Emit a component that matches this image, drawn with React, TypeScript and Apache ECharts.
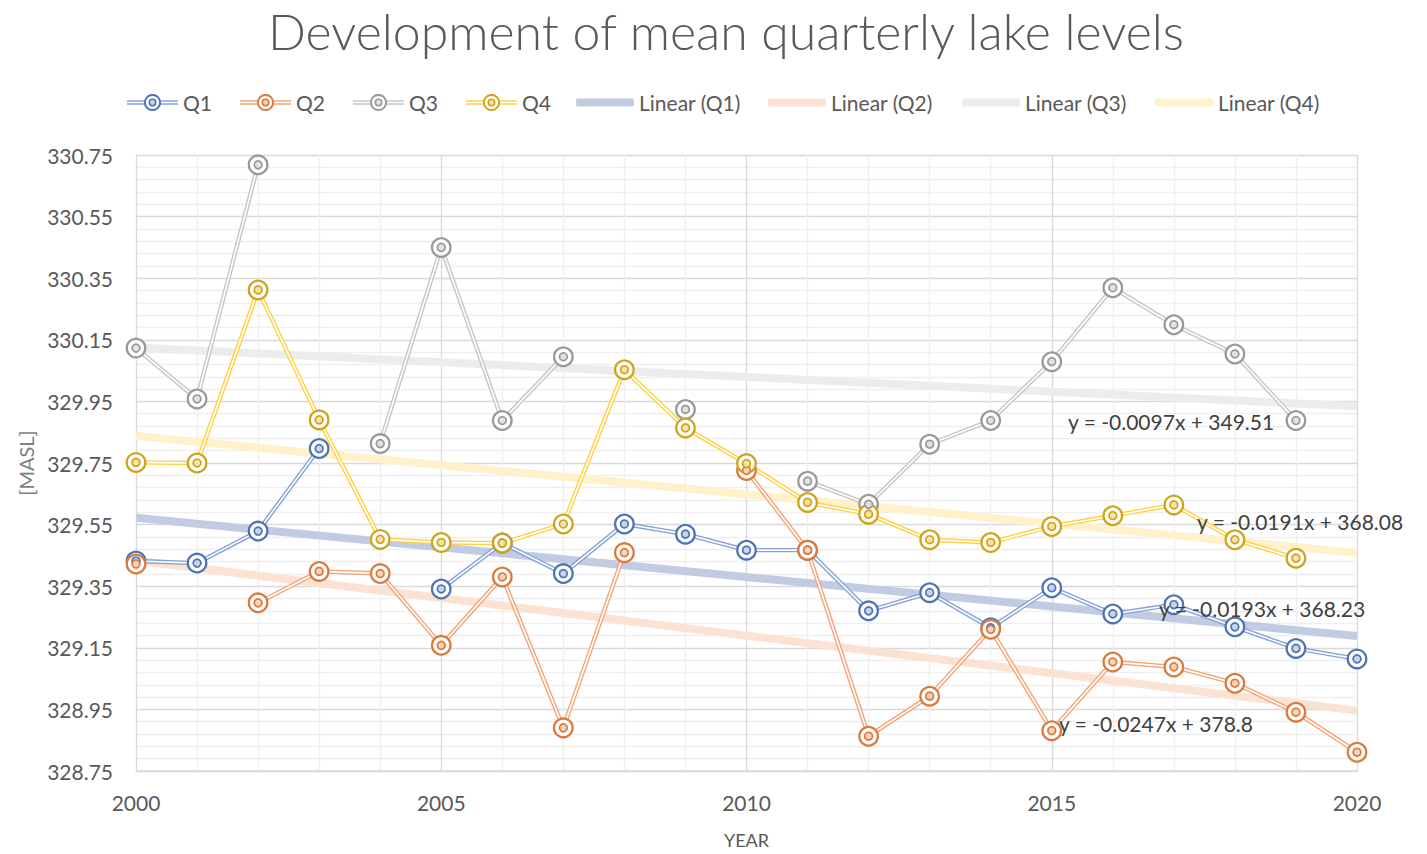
import React, { useEffect, useRef } from "react";
import * as echarts from "echarts";

const YEARS = [2000, 2001, 2002, 2003, 2004, 2005, 2006, 2007, 2008, 2009, 2010, 2011, 2012, 2013, 2014, 2015, 2016, 2017, 2018, 2019, 2020];
const Q1 = [329.432, 329.425, 329.529, 329.797, null, 329.341, 329.49, 329.391, 329.552, 329.519, 329.467, 329.467, 329.27, 329.329, 329.215, 329.345, 329.26, 329.29, 329.218, 329.148, 329.114];
const Q2 = [329.422, null, 329.296, 329.398, 329.391, 329.158, 329.38, 328.89, 329.459, null, 329.726, 329.467, 328.863, 328.993, 329.21, 328.881, 329.104, 329.088, 329.035, 328.941, 328.811];
const Q3 = [330.123, 329.958, 330.718, null, 329.813, 330.45, 329.888, 330.095, null, 329.924, null, 329.691, 329.616, 329.811, 329.888, 330.079, 330.319, 330.199, 330.104, 329.888, null];
const Q4 = [329.752, 329.75, 330.312, 329.89, 329.502, 329.492, 329.49, 329.552, 330.053, 329.864, 329.748, 329.622, 329.584, 329.501, 329.492, 329.544, 329.579, 329.614, 329.501, 329.441, null];

const SERIES_NAMES = ["Q1", "Q2", "Q3", "Q4"];
const TREND_NAMES = ["Linear (Q1)", "Linear (Q2)", "Linear (Q3)", "Linear (Q4)"];
const TREND_YEARS = [2000, 2020];
const TREND_START = [329.572, 329.433, 330.125, 329.838];
const TREND_END = [329.188, 328.946, 329.934, 329.458];
const EQUATIONS = ["y = -0.0193x + 368.23", "y = -0.0247x + 378.8", "y = -0.0097x + 349.51", "y = -0.0191x + 368.08"];

const Y_MIN = 328.75;
const Y_MAX = 330.75;
const Y_STEP = 0.2;

const LINE_COLORS = ["#86a3d8", "#f2a577", "#c6c6c6", "#ffd147"];
const MARK_COLORS = ["#4e73b6", "#dc7a3b", "#999999", "#cfa419"];
const INNER_FILL = ["#c7d4ee", "#f8d3bb", "#e2e2e2", "#f6e3a3"];
const TREND_COLORS = ["#c1cce2", "#fbe2d3", "#ececec", "#fff1c9"];

const FONT = "Lato, 'Open Sans', sans-serif";

const ALL = [Q1, Q2, Q3, Q4];

function legendIcon(i: number) {
  const svg =
    `<svg xmlns='http://www.w3.org/2000/svg' width='51' height='18' viewBox='0 0 51 18'>` +
    `<line x1='0' y1='9' x2='51' y2='9' stroke='${LINE_COLORS[i]}' stroke-width='4.4'/>` +
    `<line x1='0' y1='9' x2='51' y2='9' stroke='#ffffff' stroke-width='1.6'/>` +
    `<circle cx='25.5' cy='9' r='7.6' fill='#ffffff' stroke='${MARK_COLORS[i]}' stroke-width='2'/>` +
    `<circle cx='25.5' cy='9' r='3.2' fill='${INNER_FILL[i]}' stroke='${MARK_COLORS[i]}' stroke-width='1.6'/>` +
    `</svg>`;
  return "image://data:image/svg+xml;charset=utf-8," + encodeURIComponent(svg);
}

export default function App() {
  const ref = useRef<HTMLDivElement>(null);

  useEffect(() => {
    document.body.style.margin = "0";
    if (!ref.current) return;
    const chart = echarts.init(ref.current, undefined, { renderer: "svg" });

    const toData = (vals: (number | null)[]) =>
      YEARS.map((y, k) => [y, vals[k] == null ? "-" : (vals[k] as number) - Y_MIN]);

    const series: any[] = [];
    TREND_NAMES.forEach((name, i) => {
      series.push({
        type: "line",
        name,
        data: TREND_YEARS.map((y, k) => [y, (k === 0 ? TREND_START[i] : TREND_END[i]) - Y_MIN]),
        symbol: "none",
        lineStyle: { color: TREND_COLORS[i], width: 8 },
        itemStyle: { color: TREND_COLORS[i] },
        z: 1,
        silent: true,
      });
    });
    SERIES_NAMES.forEach((name, i) => {
      const d = toData(ALL[i]);
      series.push({
        type: "line", name, data: d, symbol: "none",
        lineStyle: { color: LINE_COLORS[i], width: 4.4 },
        itemStyle: { color: MARK_COLORS[i] },
        z: 2,
      });
      series.push({
        type: "line", name, data: d, symbol: "none",
        lineStyle: { color: "#ffffff", width: 1.6 },
        itemStyle: { color: MARK_COLORS[i] },
        z: 3,
      });
      series.push({
        type: "line", name, data: d, symbol: "circle", symbolSize: 18.5, showSymbol: true, showAllSymbol: true,
        lineStyle: { width: 0, opacity: 0 },
        itemStyle: { color: "#ffffff", borderColor: MARK_COLORS[i], borderWidth: 2.3 },
        z: 4,
      });
      series.push({
        type: "line", name, data: d, symbol: "circle", symbolSize: 7.8, showSymbol: true, showAllSymbol: true,
        lineStyle: { width: 0, opacity: 0 },
        itemStyle: { color: INNER_FILL[i], borderColor: MARK_COLORS[i], borderWidth: 1.7 },
        z: 5,
      });
    });

    const qLeft = [127, 240, 353, 466];
    const tLeft = [576, 768, 962, 1155];
    const legendText = { color: "#595959", fontSize: 21, fontFamily: FONT };
    const legends: any[] = [];
    SERIES_NAMES.forEach((n, i) => {
      legends.push({
        data: [{ name: n, icon: legendIcon(i) }],
        left: qLeft[i], top: 92, padding: 0, itemWidth: 51, itemHeight: 18,
        textStyle: legendText, itemStyle: { borderWidth: 0 }, selectedMode: false,
      });
    });
    TREND_NAMES.forEach((n, i) => {
      legends.push({
        data: [{ name: n, icon: "roundRect" }],
        left: tLeft[i], top: 92, padding: 0, itemWidth: 58, itemHeight: 8,
        textStyle: legendText, itemStyle: { borderWidth: 0 }, selectedMode: false,
      });
    });

    const eqPos = [
      [1159, 610],
      [1059, 725],
      [1068, 423],
      [1197, 523],
    ];

    chart.setOption({
      animation: false,
      backgroundColor: "#ffffff",
      title: {
        text: "Development of mean quarterly lake levels",
        left: 721, top: 1, textAlign: "center",
        textStyle: { color: "#595959", fontSize: 50, fontWeight: 300, fontFamily: FONT },
      },
      legend: legends,
      grid: { left: 136, right: 70, top: 155, bottom: 80, containLabel: false },
      xAxis: {
        type: "value", min: 2000, max: 2020, interval: 5,
        name: "YEAR", nameLocation: "middle", nameGap: 60,
        nameTextStyle: { color: "#595959", fontSize: 18, fontFamily: FONT },
        axisLine: { show: true, lineStyle: { color: "#d9d9d9", width: 1.5 } },
        axisTick: { show: false },
        axisLabel: { color: "#595959", fontSize: 21, fontFamily: FONT, margin: 21, formatter: (v: number) => String(v) },
        splitLine: { show: true, lineStyle: { color: "#d9d9d9", width: 1.3 } },
        minorTick: { show: false, splitNumber: 5 },
        minorSplitLine: { show: true, lineStyle: { color: "#efefef", width: 1.3 } },
      },
      yAxis: {
        type: "value", min: 0, max: Y_MAX - Y_MIN, interval: Y_STEP,
        name: "[MASL]", nameLocation: "middle", nameGap: 93,
        nameTextStyle: { color: "#7f7f7f", fontSize: 20, fontFamily: FONT },
        axisLine: { show: false },
        axisTick: { show: false },
        axisLabel: {
          color: "#595959", fontSize: 21, fontFamily: FONT, margin: 23,
          formatter: (v: number) => (v + Y_MIN).toFixed(2),
        },
        splitLine: { show: true, lineStyle: { color: "#d9d9d9", width: 1.3 } },
        minorTick: { show: false, splitNumber: 5 },
        minorSplitLine: { show: true, lineStyle: { color: "#efefef", width: 1.3 } },
      },
      graphic: EQUATIONS.map((t, i) => ({
        type: "text",
        left: eqPos[i][0],
        top: eqPos[i][1] - 12,
        z: 50,
        style: { text: t, fill: "#404040", fontSize: 21, fontFamily: FONT },
      })),
      series,
    });

    return () => chart.dispose();
  }, []);

  return <div ref={ref} style={{ width: 1427, height: 854 }} />;
}
